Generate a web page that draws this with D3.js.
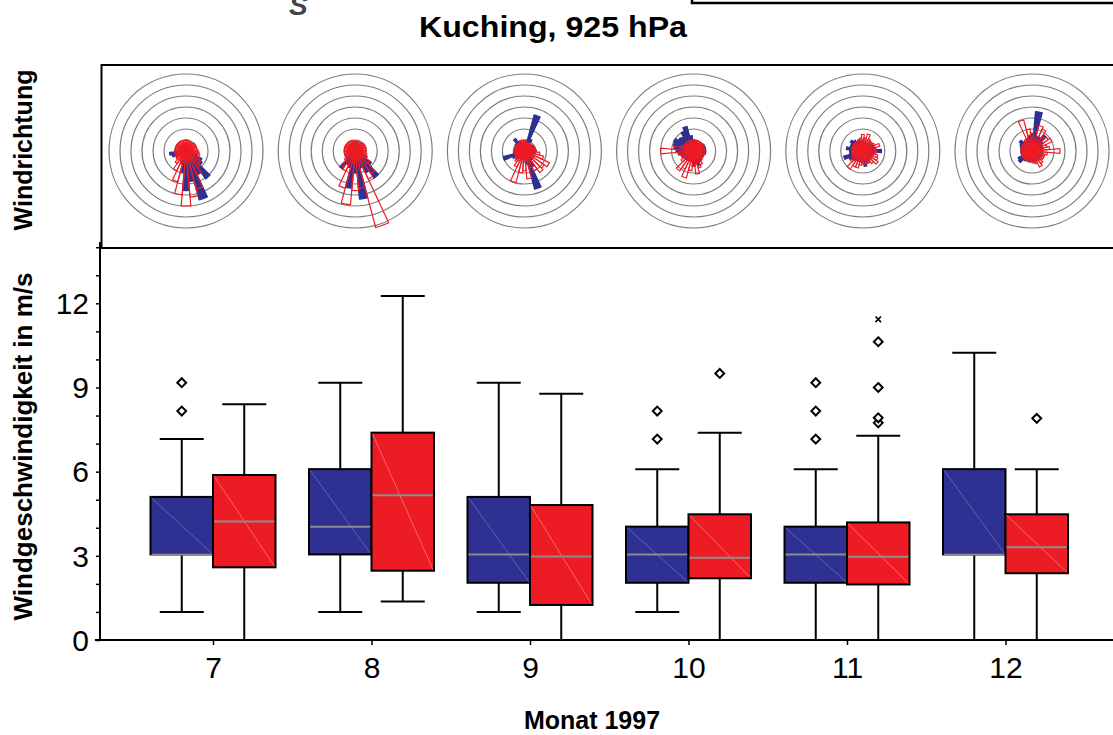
<!DOCTYPE html>
<html>
<head>
<meta charset="utf-8">
<script src="https://cdn.jsdelivr.net/npm/d3@7"></script>
<style>
  body { margin: 0; background: #fff; }
  svg { display: block; font-family: "Liberation Sans", Arial, sans-serif; }
</style>
</head>
<body>
<div id="chart"></div>
<script>
const canvas = { w: 1113, h: 735 };

const months = [7, 8, 9, 10, 11, 12];

// box plot values, m/s (blue / red series)
const blueLow    = [1.0, 1.0, 1.0, 1.0, 0, 0];
const blueQ1     = [3.05, 3.05, 2.04, 2.04, 2.04, 3.05];
const blueMedian = [3.05, 4.04, 3.05, 3.05, 3.05, 3.05];
const blueQ3     = [5.1, 6.09, 5.1, 4.04, 4.04, 6.09];
const blueHigh   = [7.16, 9.17, 9.17, 6.09, 6.09, 10.24];
const blueOut    = [[8.16, 9.17], [], [], [7.16, 8.16], [7.16, 8.16, 9.17], []];
const blueExtreme = [[], [], [], [], [], []];

const redLow    = [0, 1.37, 0, 0, 0, 0];
const redQ1     = [2.59, 2.47, 1.25, 2.2, 1.98, 2.38];
const redMedian = [4.22, 5.16, 2.98, 2.93, 2.97, 3.31];
const redQ3     = [5.88, 7.39, 4.81, 4.48, 4.19, 4.48];
const redHigh   = [8.4, 12.26, 8.78, 7.39, 7.28, 6.09];
const redOut    = [[], [], [], [9.5], [7.74, 7.92, 9.0, 10.63], [7.9]];
const redExtreme = [[], [], [], [], [11.43], []];

const yTicks = [0, 3, 6, 9, 12];

// wind roses: frequency per 10 degree sector (0 = N, clockwise), ring every 5
const roseRings = [5, 10, 15, 20, 25, 30, 35];
const roseBlue = [
  [2.5,2,2,2,2,2,2,2.5,3,3,4,5.5,8,9,15.5,12,23,14,18,10,6,4,3.5,3.5,5,6.5,7.5,5,3,3,2.5,2.5,2.5,2,2.5,3],
  [4,4,3,2.5,2.5,2.5,2.5,2.5,3,3,3.5,4,6,9,15,11,8,22,10,17,8,7,10,5,3,3,3,3,3,3,3,3,3,3,3.5,4],
  [4,5,17,6,4,4,4.5,4.5,5,5,4.5,4,4,4.5,5,8,18,6,4,4,4,4,4,4.5,6,10,5,4,4,4,4.5,5,7,5,4,4],
  [5,4.5,4,4,4,5,5.5,5.5,5.5,5.5,5.5,5,4.5,4.5,5,5.5,7,6,7,5,4.5,4.5,5,5,5.5,6,7,8,9,9.5,10,8.5,8,10,11.6,7],
  [4.5,4,4,4,4,4.5,5,5.5,6,8.5,5,4.5,4.5,4.5,4.5,5,5.5,7,5,4.5,4.5,5,5.5,6,7,9,6,6,7.5,6,6,7,6,5,4.5,4.5],
  [8,18,7,7,9,6,5,5,4.5,4.5,4.5,4.5,4.5,4.5,4.5,4.5,4.5,4.5,4.5,4.5,5,5,5.5,7.5,7,5,5,5,5,5.5,6,7,5.5,5,6,7]
];
const roseRed = [
  [5,5,4.5,4.5,4.5,5,5,5,5,5.5,6,6.5,7,8,9,12,18,21,25,20,14.5,10,7,5.5,5,5,5,5,5,5,5,5,5,5,5,5],
  [4.5,4.5,4.5,4.5,4.5,5,5,5,5,5,5,5.5,6,8,12.5,14,36,17,18,24.5,17.5,10,9,6,5,5,5,5,5,5,5,5,5,5,5,4.5],
  [4.5,4.5,4,4,4,4,4.5,5,5,5.5,7,9,12.5,11,12,10,8,12.7,9,10,15,8,6,5,4.5,4.5,4.5,4.5,4.5,4.5,4.5,4.5,4.5,4.5,5,5],
  [5,5,5,5,5,5,5,5,5,5,5,5,5,5,5.5,7,8,10.5,7,9,12.7,9,11,7,6,6,7,15,9,6,5,5,5,5,5,5],
  [7.5,6,8,6,5.5,5.5,6,8,6,6,6,7,7.5,8.5,7,6,6,6,6,6.5,8,8,10,7,5.5,5,5,5,5,5,5,5,5,5,5.5,6],
  [8,9,12,11,8,9,10,7,8,12.7,7,6,6,6,7,8,6,5.5,5,5,5,5,5,5,5,5,5,5,5,5,5,5,5,6,14.6,10]
];

const blueColor = "#2e3192";
const redColor = "#ed1c24";

const svg = d3.select("#chart")
  .append("svg")
  .attr("width", canvas.w)
  .attr("height", canvas.h)
  .attr("viewBox", `0 0 ${canvas.w} ${canvas.h}`);

// cut off bits at the very top (also cut in the original)
svg.append("text")
  .attr("x", 289).attr("y", 15)
  .attr("font-size", 28).attr("font-weight", "bold").attr("font-style", "italic")
  .attr("fill", "#444")
  .text("S");
svg.append("path")
  .attr("d", "M692,0 V3 H1115")
  .attr("fill", "none").attr("stroke", "#000").attr("stroke-width", 2.5);

svg.append("text")
  .attr("x", 553).attr("y", 37)
  .attr("text-anchor", "middle")
  .attr("font-size", 29).attr("font-weight", "bold")
  .attr("textLength", 268).attr("lengthAdjust", "spacingAndGlyphs")
  .text("Kuching, 925 hPa");

// ---- wind direction panel
svg.append("rect")
  .attr("x", 101.5).attr("y", 65)
  .attr("width", 1020).attr("height", 183)
  .attr("fill", "none").attr("stroke", "#000").attr("stroke-width", 2);

const roseX = d3.scalePoint().domain(months).range([186, 1032]);
const roseY = 151;
const r = d3.scaleLinear().domain([0, 35]).range([0, 77]);
const dirs = d3.range(0, 360, 10);
const rad = a => a * Math.PI / 180;

const arc = d3.arc()
  .innerRadius(0)
  .outerRadius(d => r(d.v))
  .startAngle(d => rad(d.dir - 5))
  .endAngle(d => rad(d.dir + 5));

const roses = svg.append("g")
  .selectAll("g")
  .data(months)
  .join("g")
  .attr("transform", d => `translate(${roseX(d)},${roseY})`);

roses.selectAll("circle")
  .data(roseRings)
  .join("circle")
  .attr("r", d => r(d))
  .attr("fill", "none")
  .attr("stroke", "#7d7d7d")
  .attr("stroke-width", 1.2);

roses.append("g")
  .selectAll("path")
  .data((m, i) => dirs.map((dir, k) => ({ dir, v: roseBlue[i][k] })))
  .join("path")
  .attr("d", arc)
  .attr("fill", blueColor)
  .attr("stroke", blueColor)
  .attr("stroke-width", 1.2)
  .attr("stroke-linejoin", "round");

// red: short sectors look filled, long ones outlined
roses.append("g")
  .selectAll("path")
  .data((m, i) => dirs.map((dir, k) => ({ dir, v: Math.min(roseRed[i][k], 3.6) })))
  .join("path")
  .attr("d", arc)
  .attr("fill", redColor);

roses.append("g")
  .selectAll("path")
  .data((m, i) => dirs.map((dir, k) => ({ dir, v: roseRed[i][k] })))
  .join("path")
  .attr("d", arc)
  .attr("fill", "none")
  .attr("stroke", redColor)
  .attr("stroke-width", 1.2);

svg.append("text")
  .attr("transform", "translate(32,150) rotate(-90)")
  .attr("text-anchor", "middle")
  .attr("font-size", 25).attr("font-weight", "bold")
  .text("Windrichtung");

// ---- box plot
const x = d3.scalePoint().domain(months).range([213, 1005.5]);
const y = d3.scaleLinear().domain([0, 14]).range([640, 247.2]);
const boxW = 62.5;
const capW = 44;

const series = [
  { fill: blueColor, diag: "#6b6fbf", shift: -1, low: blueLow, q1: blueQ1, med: blueMedian, q3: blueQ3, high: blueHigh, out: blueOut, ext: blueExtreme },
  { fill: redColor, diag: "#f47a7e", shift: 0, low: redLow, q1: redQ1, med: redMedian, q3: redQ3, high: redHigh, out: redOut, ext: redExtreme }
];

const boxes = [];
series.forEach(s => {
  months.forEach((m, i) => {
    boxes.push({
      s, m,
      x0: x(m) + s.shift * boxW,
      low: s.low[i], q1: s.q1[i], med: s.med[i], q3: s.q3[i], high: s.high[i],
      out: s.out[i], ext: s.ext[i]
    });
  });
});

const bg = svg.append("g")
  .selectAll("g")
  .data(boxes)
  .join("g");

bg.append("line")
  .attr("x1", d => d.x0 + boxW / 2).attr("x2", d => d.x0 + boxW / 2)
  .attr("y1", d => y(d.high)).attr("y2", d => y(d.low))
  .attr("stroke", "#000").attr("stroke-width", 2);

bg.selectAll(".cap")
  .data(d => [d.low, d.high].map(v => ({ v, cx: d.x0 + boxW / 2 })))
  .join("line")
  .attr("class", "cap")
  .attr("x1", d => d.cx - capW / 2).attr("x2", d => d.cx + capW / 2)
  .attr("y1", d => y(d.v)).attr("y2", d => y(d.v))
  .attr("stroke", "#000").attr("stroke-width", 2);

bg.append("rect")
  .attr("x", d => d.x0).attr("width", boxW)
  .attr("y", d => y(d.q3)).attr("height", d => y(d.q1) - y(d.q3))
  .attr("fill", d => d.s.fill)
  .attr("stroke", "#000").attr("stroke-width", 2);

bg.append("line")
  .attr("x1", d => d.x0 + 1).attr("x2", d => d.x0 + boxW - 1)
  .attr("y1", d => y(d.q3) + 1).attr("y2", d => y(d.q1) - 1)
  .attr("stroke", d => d.s.diag).attr("stroke-width", 0.8);

bg.append("line")
  .attr("x1", d => d.x0 + 1).attr("x2", d => d.x0 + boxW - 1)
  .attr("y1", d => y(d.med)).attr("y2", d => y(d.med))
  .attr("stroke", "#8c8c8c").attr("stroke-width", 2);

bg.selectAll(".out")
  .data(d => d.out.map(v => ({ v, cx: d.x0 + boxW / 2 })))
  .join("path")
  .attr("class", "out")
  .attr("d", d3.symbol(d3.symbolDiamond2, 50))
  .attr("transform", d => `translate(${d.cx},${y(d.v)})`)
  .attr("fill", "#fff").attr("stroke", "#000").attr("stroke-width", 2);

bg.selectAll(".ext")
  .data(d => d.ext.map(v => ({ v, cx: d.x0 + boxW / 2 })))
  .join("path")
  .attr("class", "ext")
  .attr("d", d3.symbol(d3.symbolX, 22))
  .attr("transform", d => `translate(${d.cx},${y(d.v)})`)
  .attr("fill", "none").attr("stroke", "#000").attr("stroke-width", 1.6);

// axes
const yAxis = svg.append("g")
  .attr("transform", "translate(100,0)")
  .call(d3.axisLeft(y).tickValues(d3.range(0, 15)).tickSize(4).tickFormat(""));
yAxis.select(".domain").attr("stroke-width", 2).attr("d", `M0,${y(0)}V242`);
yAxis.selectAll(".tick line").attr("stroke-width", 1.5);

svg.append("g")
  .selectAll("text")
  .data(yTicks)
  .join("text")
  .attr("x", 89)
  .attr("y", d => y(d))
  .attr("dy", "0.36em")
  .attr("text-anchor", "end")
  .attr("font-size", 30)
  .text(d => d);

const xAxis = svg.append("g")
  .attr("transform", `translate(0,${y(0)})`)
  .call(d3.axisBottom(x).tickSize(5).tickPadding(12));
xAxis.select(".domain").attr("stroke-width", 2).attr("d", "M95,0H1115");
xAxis.selectAll(".tick line").attr("stroke-width", 1.5);
xAxis.selectAll(".tick text")
  .attr("font-size", 30)
  .attr("font-family", "Liberation Sans, Arial, sans-serif")
  .attr("fill", "#000");

svg.append("text")
  .attr("x", 592).attr("y", 729)
  .attr("text-anchor", "middle")
  .attr("font-size", 25).attr("font-weight", "bold")
  .text("Monat 1997");

svg.append("text")
  .attr("transform", `translate(32,${(268 + 625) / 2}) rotate(-90)`)
  .attr("text-anchor", "middle")
  .attr("font-size", 26).attr("font-weight", "bold")
  .text("Windgeschwindigkeit in m/s");
</script>
</body>
</html>
